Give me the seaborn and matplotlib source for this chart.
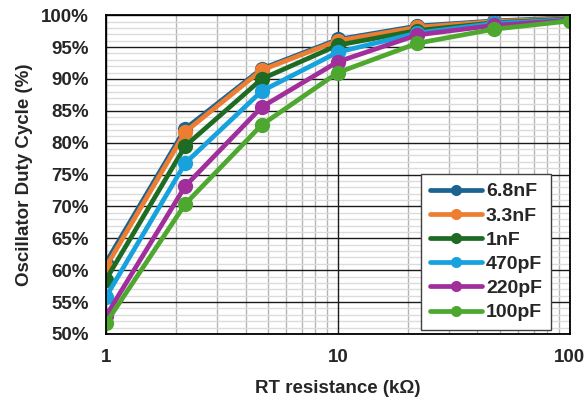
import numpy as np
import pandas as pd
import matplotlib
matplotlib.use("Agg")
import matplotlib.pyplot as plt
import seaborn as sns
from matplotlib.ticker import MultipleLocator, FixedLocator, NullFormatter

# --- data ---
rt_kohm = [1, 2.2, 4.7, 10, 22, 47, 100]
series_names = ["6.8nF", "3.3nF", "1nF", "470pF", "220pF", "100pF"]

duty_6n8 = [61.2, 82.2, 91.6, 96.2, 98.3, 99.1, 99.6]
duty_3n3 = [60.5, 81.7, 91.4, 96.0, 98.1, 99.0, 99.5]
duty_1n = [58.5, 79.5, 90.0, 95.3, 97.6, 98.8, 99.4]
duty_470p = [55.8, 76.8, 88.1, 94.2, 97.2, 98.7, 99.3]
duty_220p = [52.8, 73.2, 85.6, 92.7, 96.9, 98.4, 99.2]
duty_100p = [51.7, 70.4, 82.8, 91.0, 95.6, 97.8, 99.1]

colors = ["#1d6390", "#ed7d31", "#1e6b24", "#17a2de", "#a12f9b", "#4ea72e"]
y_ticks = [50, 55, 60, 65, 70, 75, 80, 85, 90, 95, 100]
x_ticks = [1, 10, 100]

all_series = [duty_6n8, duty_3n3, duty_1n, duty_470p, duty_220p, duty_100p]
rows = []
for name, vals in zip(series_names, all_series):
    for x, y in zip(rt_kohm, vals):
        rows.append({"RT": x, "Duty": y, "Cap": name})
df = pd.DataFrame(rows)

sns.set_style("white")
plt.rcParams["font.family"] = ["Liberation Sans", "DejaVu Sans"]
plt.rcParams["font.weight"] = "bold"

fig, ax = plt.subplots(figsize=(5.85, 4.0), dpi=100)
fig.subplots_adjust(left=0.181, right=0.974, top=0.962, bottom=0.165)

sns.lineplot(data=df, x="RT", y="Duty", hue="Cap", hue_order=series_names,
             palette=colors, marker="o", markersize=11, linewidth=3.4,
             markeredgewidth=0, ax=ax, zorder=3)

ax.set_xscale("log")
ax.set_xlim(1, 100)
ax.set_ylim(50, 100)

# ticks and minor grid
ax.xaxis.set_major_locator(FixedLocator(x_ticks))
ax.xaxis.set_minor_locator(FixedLocator([m * d for d in (1, 10) for m in range(2, 10)]))
ax.xaxis.set_minor_formatter(NullFormatter())
ax.set_xticklabels([str(t) for t in x_ticks])
ax.yaxis.set_major_locator(FixedLocator(y_ticks))
ax.yaxis.set_minor_locator(MultipleLocator(1))
ax.set_yticklabels([f"{t}%" for t in y_ticks])

ax.set_axisbelow(True)
ax.grid(which="minor", axis="y", color="#dcdcdc", linewidth=1.0)
ax.grid(which="minor", axis="x", color="#b4b4b4", linewidth=1.0)
# major grid drawn on top of the minor grid, under the data
for t in y_ticks:
    ax.axhline(t, color="#1a1a1a", linewidth=1.0, zorder=1)
for t in x_ticks:
    ax.axvline(t, color="#1a1a1a", linewidth=1.0, zorder=1)

ax.tick_params(which="both", length=0)
ax.tick_params(axis="y", labelsize=13.5, pad=12)
ax.tick_params(axis="x", labelsize=13.5, pad=11)
for lab in ax.get_xticklabels() + ax.get_yticklabels():
    lab.set_fontweight("bold")

for s in ax.spines.values():
    s.set_color("#000000")
    s.set_linewidth(1.3)
    s.set_zorder(4)

ax.set_xlabel("RT resistance (k\u03a9)", fontsize=13.5, fontweight="bold", labelpad=10)
ax.set_ylabel("Oscillator Duty Cycle (%)", fontsize=13.5, fontweight="bold", labelpad=6)

leg = ax.legend(loc="upper left", bbox_to_anchor=(0.679, 0.502), frameon=True,
                fancybox=False, edgecolor="#404040", framealpha=1,
                prop={"weight": "bold", "size": 14}, handlelength=2.7,
                handletextpad=0.2, labelspacing=0.34, borderpad=0.45,
                borderaxespad=0)
leg.get_frame().set_linewidth(1.0)
leg.set_zorder(5)
for h in leg.get_lines():
    h.set_linewidth(3.4)
    h.set_markersize(8)

fig.savefig("out.png", dpi=100)
